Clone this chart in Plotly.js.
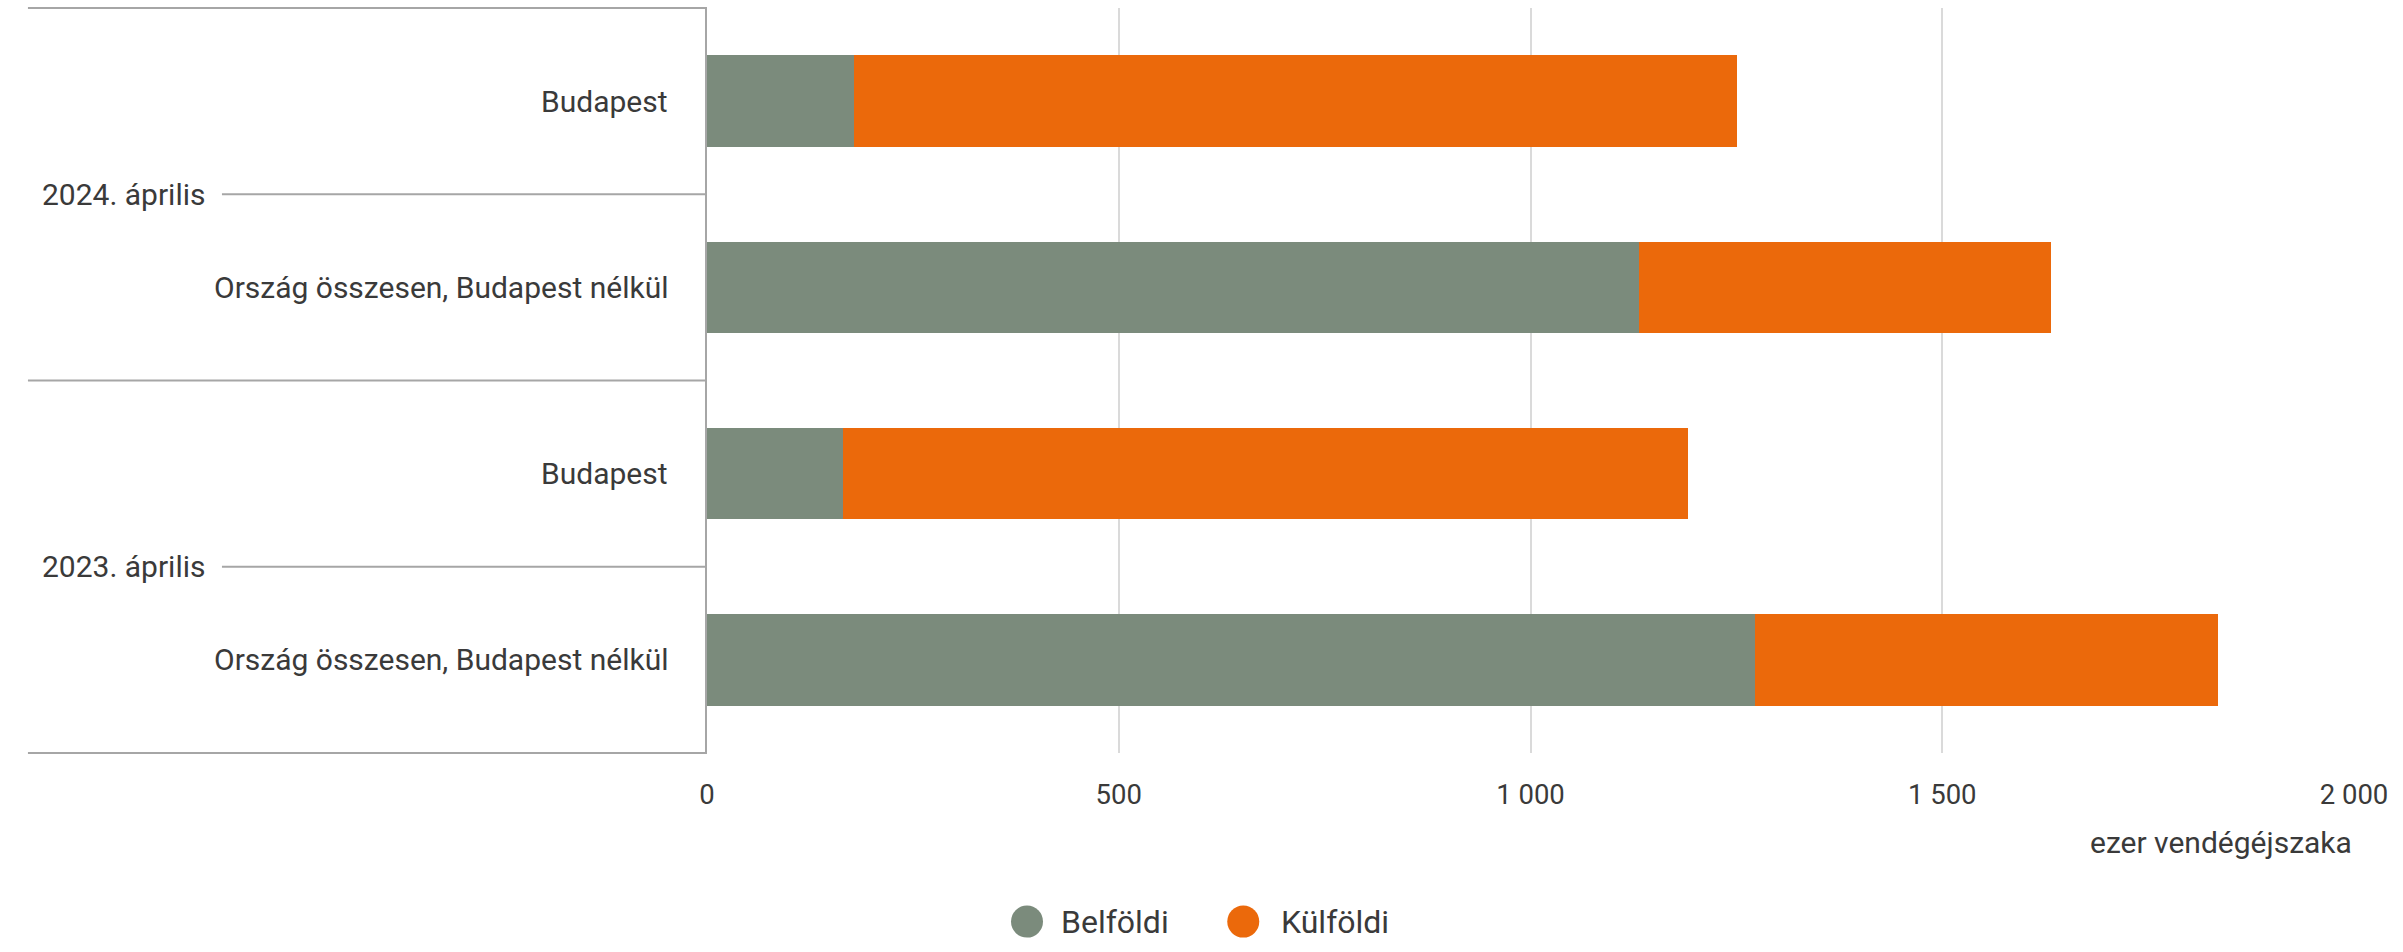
<!DOCTYPE html>
<html><head><meta charset="utf-8">
<script src="https://cdn.plot.ly/plotly-3.0.1.min.js"></script>
<style>html,body{margin:0;padding:0;background:#fff}#chart{width:2403px;height:952px}</style>
</head><body><div id="chart"></div>
<script>
const periods = ["2024. április","2024. április","2023. április","2023. április"];
const regions = ["Budapest","Ország összesen, Budapest nélkül","Budapest","Ország összesen, Budapest nélkül"];
const belfoldi = [178, 1132, 165, 1273];
const kulfoldi = [1073, 500, 1026, 562];
const seriesNames = ["Belföldi","Külföldi"];
const seriesColors = ["#7b8b7c","#eb690b"];
const xTitle = "ezer vendégéjszaka";

const txt = "#3a3a3a";
const lineCol = "#a6a6a6";
const font = "Roboto, Arial, sans-serif";
const n = regions.length;

const traces = [belfoldi, kulfoldi].map((vals, i) => ({
  type: "bar", orientation: "h",
  x: vals, y: [periods, regions],
  name: seriesNames[i],
  marker: {color: seriesColors[i], line: {width: 0}},
  showlegend: false,
  hoverinfo: "x+name"
}));

const yOf = k => 1 - k / n;  // paper y of category boundary k
const shapes = [];
const annotations = [];

// inner category labels
regions.forEach((r, i) => {
  annotations.push({xref:"paper", yref:"paper", x:-0.0222, y:yOf(i + 0.5), xanchor:"right", yanchor:"middle",
    showarrow:false, text:r, font:{family:font, size:30, color:txt}});
});
// group labels, dividers and group lines
const groups = [];
periods.forEach((p, i) => {
  if (!groups.length || groups[groups.length - 1].name !== p) groups.push({name:p, start:i, end:i + 1});
  else groups[groups.length - 1].end = i + 1;
});
const bounds = new Set();
groups.forEach(g => {
  bounds.add(g.start); bounds.add(g.end);
  const yc = yOf((g.start + g.end) / 2);
  annotations.push({xref:"paper", yref:"paper", x:-0.4050, y:yc, xanchor:"left", yanchor:"middle",
    showarrow:false, text:g.name, font:{family:font, size:30, color:txt}});
  shapes.push({type:"line", xref:"paper", yref:"paper", x0:-0.2945, x1:0, y0:yc, y1:yc, line:{color:lineCol, width:2}});
});
bounds.forEach(b => {
  shapes.push({type:"line", xref:"paper", yref:"paper", x0:-0.4123, x1:0, y0:yOf(b), y1:yOf(b), line:{color:lineCol, width:2}});
});

// axis title
annotations.push({xref:"paper", yref:"paper", x:1, y:-0.1207, xanchor:"right", yanchor:"middle", showarrow:false,
  text:xTitle, font:{family:font, size:30, color:txt}});

// legend
const legX = [0.1943, 0.3256];
const legTextX = [0.2140, 0.3475];
const legY = -0.2263;
seriesNames.forEach((nm, i) => {
  shapes.push({type:"circle", xref:"paper", yref:"paper", xsizemode:"pixel", ysizemode:"pixel",
    xanchor:legX[i], yanchor:legY, x0:-16, x1:16, y0:-16, y1:16,
    fillcolor:seriesColors[i], line:{width:0}});
  annotations.push({xref:"paper", yref:"paper", x:legTextX[i], y:legY, xanchor:"left", yanchor:"middle",
    showarrow:false, text:nm, font:{family:font, size:32, color:txt}});
});

const layout = {
  width: 2403, height: 952,
  margin: {l: 707, r: 49, t: 8, b: 199},
  paper_bgcolor: "#fff", plot_bgcolor: "#fff",
  barmode: "stack", bargap: 0.51,
  separators: ", ",
  font: {family: font, size: 27, color: txt},
  showlegend: false,
  xaxis: {range: [0, 2000], dtick: 500, tick0: 0, tickformat: ",d", showgrid: true, gridcolor: "#dadada", gridwidth: 2,
          zeroline: false, showline: false, ticks: "", tickfont: {size: 27.5, color: txt}, ticklabelstandoff: 22},
  yaxis: {type: "multicategory", autorange: "reversed", showdividers: false, showticklabels: false,
          showline: true, linecolor: lineCol, linewidth: 2, ticks: "", showgrid: false},
  shapes: shapes,
  annotations: annotations
};
Plotly.newPlot("chart", traces, layout, {displayModeBar: false});
</script></body></html>
